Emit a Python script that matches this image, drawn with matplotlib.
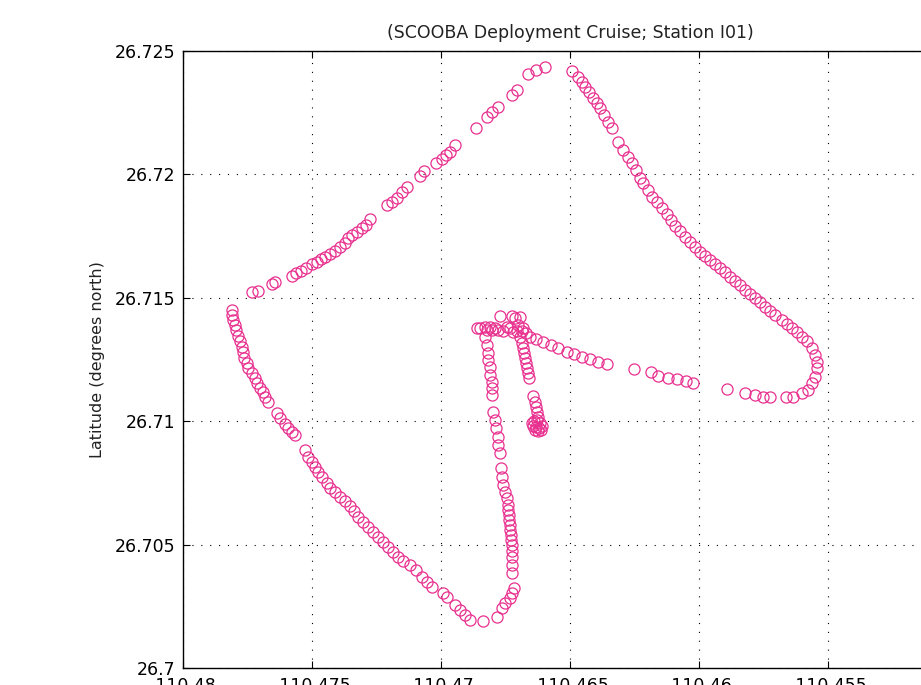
import matplotlib
matplotlib.use("Agg")
import matplotlib.pyplot as plt

# ship track, station I01 (degrees)
# leg 1: north-east run along the top left
lon_leg1 = [-110.47733, -110.47709, -110.47655, -110.47643, -110.47578, -110.47562, -110.47543,
            -110.47523, -110.47500, -110.47481, -110.47465, -110.47450, -110.47430, -110.47411,
            -110.47391, -110.47372, -110.47360, -110.47345, -110.47326, -110.47306, -110.47291,
            -110.47275, -110.47209, -110.47190, -110.47171, -110.47151, -110.47132, -110.47081,
            -110.47066, -110.47019, -110.46996, -110.46981, -110.46965, -110.46946, -110.46864,
            -110.46822, -110.46802, -110.46779, -110.46725, -110.46705, -110.46663, -110.46632,
            -110.46597]
lat_leg1 = [26.71524, 26.71528, 26.71556, 26.71564, 26.71588, 26.71601, 26.71609,
            26.71621, 26.71637, 26.71645, 26.71657, 26.71665, 26.71678, 26.71690,
            26.71706, 26.71722, 26.71742, 26.71755, 26.71767, 26.71783, 26.71795,
            26.71819, 26.71876, 26.71888, 26.71904, 26.71929, 26.71949, 26.71994,
            26.72014, 26.72046, 26.72062, 26.72079, 26.72091, 26.72119, 26.72188,
            26.72233, 26.72253, 26.72273, 26.72322, 26.72342, 26.72407, 26.72423,
            26.72435]

# leg 2: south-east run, turn and back west to the centre
lon_leg2 = [-110.46492, -110.46469, -110.46453, -110.46442, -110.46426, -110.46411, -110.46395,
            -110.46384, -110.46368, -110.46353, -110.46337, -110.46314, -110.46295, -110.46275,
            -110.46260, -110.46244, -110.46229, -110.46217, -110.46198, -110.46182, -110.46163,
            -110.46143, -110.46124, -110.46109, -110.46093, -110.46074, -110.46054, -110.46035,
            -110.46016, -110.45996, -110.45977, -110.45957, -110.45938, -110.45919, -110.45899,
            -110.45880, -110.45860, -110.45841, -110.45822, -110.45802, -110.45783, -110.45764,
            -110.45744, -110.45725, -110.45705, -110.45678, -110.45659, -110.45640, -110.45620,
            -110.45601, -110.45581, -110.45562, -110.45550, -110.45543, -110.45543, -110.45550,
            -110.45562, -110.45577, -110.45601, -110.45636, -110.45663, -110.45725, -110.45752,
            -110.45783, -110.45822, -110.45891, -110.46023, -110.46050, -110.46085, -110.46120,
            -110.46159, -110.46186, -110.46252, -110.46357, -110.46391, -110.46422, -110.46453,
            -110.46485, -110.46512, -110.46546, -110.46574, -110.46605, -110.46632, -110.46655]
lat_leg2 = [26.72419, 26.72395, 26.72374, 26.72354, 26.72334, 26.72310, 26.72289,
            26.72269, 26.72241, 26.72212, 26.72188, 26.72131, 26.72099, 26.72071,
            26.72046, 26.72018, 26.71986, 26.71965, 26.71937, 26.71909, 26.71888,
            26.71864, 26.71840, 26.71815, 26.71791, 26.71771, 26.71746, 26.71726,
            26.71706, 26.71686, 26.71669, 26.71653, 26.71637, 26.71621, 26.71605,
            26.71584, 26.71568, 26.71552, 26.71532, 26.71515, 26.71499, 26.71483,
            26.71463, 26.71447, 26.71430, 26.71410, 26.71394, 26.71378, 26.71361,
            26.71341, 26.71325, 26.71297, 26.71268, 26.71240, 26.71216, 26.71179,
            26.71155, 26.71126, 26.71114, 26.71098, 26.71098, 26.71098, 26.71098,
            26.71106, 26.71114, 26.71131, 26.71155, 26.71163, 26.71171, 26.71175,
            26.71183, 26.71199, 26.71212, 26.71232, 26.71240, 26.71252, 26.71260,
            26.71272, 26.71280, 26.71297, 26.71309, 26.71321, 26.71333, 26.71341]

# centre cluster where the legs meet
lon_centre = [-110.46860, -110.46849, -110.46829, -110.46810, -110.46791, -110.46771, -110.46744,
              -110.46725, -110.46713, -110.46702, -110.46694, -110.46682, -110.46822, -110.46802,
              -110.46779, -110.46760, -110.46733, -110.46721, -110.46705, -110.46686, -110.46671]
lat_centre = [26.71378, 26.71378, 26.71382, 26.71382, 26.71378, 26.71426, 26.71382,
              26.71426, 26.71418, 26.71390, 26.71422, 26.71378, 26.71370, 26.71370,
              26.71370, 26.71366, 26.71378, 26.71361, 26.71366, 26.71366, 26.71357]

# leg 3: south from the centre to the bottom corner
lon_leg3 = [-110.46829, -110.46822, -110.46818, -110.46818, -110.46810, -110.46810, -110.46802,
            -110.46802, -110.46802, -110.46798, -110.46791, -110.46787, -110.46779, -110.46779,
            -110.46771, -110.46767, -110.46764, -110.46760, -110.46752, -110.46744, -110.46740,
            -110.46740, -110.46736, -110.46736, -110.46733, -110.46733, -110.46729, -110.46729,
            -110.46725, -110.46725, -110.46725, -110.46725, -110.46725, -110.46717, -110.46725,
            -110.46733, -110.46752, -110.46764, -110.46783, -110.46837]
lat_leg3 = [26.71341, 26.71309, 26.71276, 26.71248, 26.71220, 26.71187, 26.71159,
            26.71135, 26.71106, 26.71037, 26.71005, 26.70972, 26.70936, 26.70904,
            26.70871, 26.70810, 26.70774, 26.70742, 26.70713, 26.70689, 26.70660,
            26.70640, 26.70620, 26.70600, 26.70579, 26.70559, 26.70539, 26.70519,
            26.70498, 26.70474, 26.70450, 26.70417, 26.70385, 26.70324, 26.70304,
            26.70284, 26.70263, 26.70243, 26.70207, 26.70190]

# leg 4: north-west run along the bottom left
lon_leg4 = [-110.47810, -110.47810, -110.47806, -110.47798, -110.47795, -110.47787, -110.47779,
            -110.47771, -110.47767, -110.47764, -110.47752, -110.47748, -110.47733, -110.47721,
            -110.47713, -110.47702, -110.47690, -110.47682, -110.47671, -110.47636, -110.47624,
            -110.47605, -110.47593, -110.47578, -110.47566, -110.47527, -110.47516, -110.47500,
            -110.47488, -110.47477, -110.47461, -110.47442, -110.47430, -110.47411, -110.47391,
            -110.47372, -110.47353, -110.47337, -110.47322, -110.47302, -110.47283, -110.47264,
            -110.47244, -110.47225, -110.47205, -110.47186, -110.47167, -110.47147, -110.47120,
            -110.47097, -110.47074, -110.47054, -110.47035, -110.46992, -110.46977, -110.46946,
            -110.46926, -110.46907, -110.46888]
lat_leg4 = [26.71451, 26.71430, 26.71410, 26.71390, 26.71370, 26.71345, 26.71325,
            26.71301, 26.71280, 26.71256, 26.71236, 26.71216, 26.71195, 26.71175,
            26.71155, 26.71135, 26.71118, 26.71098, 26.71078, 26.71033, 26.71013,
            26.70989, 26.70972, 26.70956, 26.70944, 26.70883, 26.70855, 26.70835,
            26.70814, 26.70794, 26.70774, 26.70750, 26.70729, 26.70713, 26.70693,
            26.70677, 26.70656, 26.70636, 26.70612, 26.70592, 26.70571, 26.70551,
            26.70531, 26.70511, 26.70490, 26.70470, 26.70450, 26.70434, 26.70417,
            26.70397, 26.70369, 26.70348, 26.70328, 26.70304, 26.70288, 26.70255,
            26.70235, 26.70215, 26.70194]

# leg 5: short run south from the centre to the deployment spot
lon_leg5 = [-110.46694, -110.46686, -110.46682, -110.46678, -110.46674, -110.46671, -110.46667,
            -110.46663, -110.46659, -110.46643, -110.46636, -110.46632, -110.46628, -110.46624,
            -110.46647, -110.46640, -110.46628, -110.46616, -110.46632, -110.46620, -110.46609,
            -110.46636, -110.46624, -110.46612, -110.46643]
lat_leg5 = [26.71341, 26.71317, 26.71297, 26.71276, 26.71256, 26.71236, 26.71216,
            26.71195, 26.71175, 26.71102, 26.71078, 26.71058, 26.71037, 26.71017,
            26.70993, 26.71001, 26.71005, 26.70993, 26.70977, 26.70972, 26.70981,
            26.70964, 26.70960, 26.70964, 26.70981]

x_ticks = [-110.48, -110.475, -110.47, -110.465, -110.46, -110.455, -110.45]
x_tick_labels = ["-110.48", "-110.475", "-110.47", "-110.465", "-110.46", "-110.455", "-110.45"]
y_ticks = [26.7, 26.705, 26.71, 26.715, 26.72, 26.725]
y_tick_labels = ["26.7", "26.705", "26.71", "26.715", "26.72", "26.725"]

plt.rcParams["font.family"] = ["DejaVu Sans"]

fig = plt.figure(figsize=(9.21, 6.85), dpi=100)
# axes run past the right edge, like the cropped original
ax = fig.add_axes([183 / 921, 17 / 685, 774 / 921, 617 / 685])

track_color = "#e8308f"
legs = [(lon_leg1, lat_leg1), (lon_leg2, lat_leg2), (lon_centre, lat_centre),
        (lon_leg3, lat_leg3), (lon_leg4, lat_leg4), (lon_leg5, lat_leg5)]
for lon, lat in legs:
    ax.plot(lon, lat, linestyle="none", marker="o", markersize=8,
            markerfacecolor="none", markeredgecolor=track_color, markeredgewidth=0.9)

ax.set_xlim(-110.48, -110.45)
ax.set_ylim(26.7, 26.725)
ax.set_xticks(x_ticks)
ax.set_xticklabels(x_tick_labels)
ax.set_yticks(y_ticks)
ax.set_yticklabels(y_tick_labels)

ax.grid(True, color="k", linestyle=(0, (1, 7)), linewidth=0.8)
ax.tick_params(direction="in", length=5, width=0.8, top=True, right=True,
               labelsize=12.5, colors="k")
ax.tick_params(axis="x", pad=6.5)
ax.tick_params(axis="y", pad=5.4)
for s in ax.spines.values():
    s.set_linewidth(1.0)
    s.set_color("k")

ax.set_title("(SCOOBA Deployment Cruise; Station I01)", fontsize=12.5, pad=9, color="#222222")
ax.set_ylabel("Latitude (degrees north)", fontsize=11.5, labelpad=7, color="#222222")

fig.savefig("out.png", dpi=100)
